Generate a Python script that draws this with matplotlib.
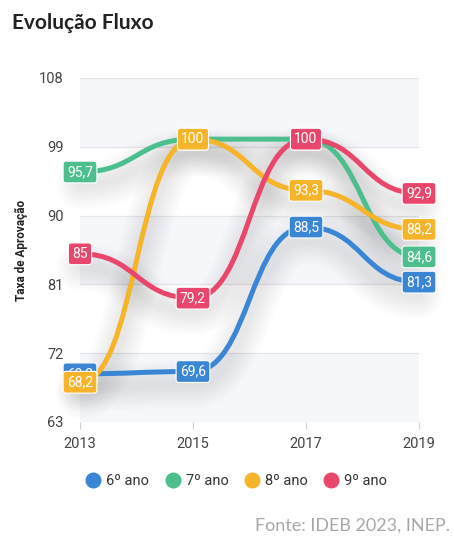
import matplotlib
matplotlib.use("Agg")
import matplotlib.pyplot as plt
import matplotlib.transforms as mtransforms
from matplotlib.path import Path
from matplotlib.patches import PathPatch
from matplotlib.lines import Line2D

years = [2013, 2015, 2017, 2019]
series_names = ["6º ano", "7º ano", "8º ano", "9º ano"]
ano6 = [69.3, 69.6, 88.5, 81.3]
ano7 = [95.7, 100, 100, 84.6]
ano8 = [68.2, 100, 93.3, 88.2]
ano9 = [85, 79.2, 100, 92.9]
ano6_labels = ["69,3", "69,6", "88,5", "81,3"]
ano7_labels = ["95,7", "100", "100", "84,6"]
ano8_labels = ["68,2", "100", "93,3", "88,2"]
ano9_labels = ["85", "79,2", "100", "92,9"]
yticks = [63, 72, 81, 90, 99, 108]

values = [ano6, ano7, ano8, ano9]
labels = [ano6_labels, ano7_labels, ano8_labels, ano9_labels]
colors = ["#3a86d4", "#4cbf8c", "#f5b42a", "#e8476b"]


def smooth_path(xs, ys):
    # bezier segments with flat handles at each point (apexcharts "smooth" look)
    verts = [(xs[0], ys[0])]
    codes = [Path.MOVETO]
    for i in range(len(xs) - 1):
        h = (xs[i + 1] - xs[i]) / 2
        verts += [(xs[i] + h, ys[i]), (xs[i + 1] - h, ys[i + 1]), (xs[i + 1], ys[i + 1])]
        codes += [Path.CURVE4] * 3
    return Path(verts, codes)


fig = plt.figure(figsize=(4.54, 5.36), dpi=100)
ax = fig.add_axes([0.1762, 0.2127, 0.7467, 0.6418])
ax.set_xlim(2013, 2019)
ax.set_ylim(63, 108)

# alternating bands
for i in range(len(yticks) - 1):
    if i % 2 == 0:
        ax.axhspan(yticks[i], yticks[i + 1], color="#f5f7fa", lw=0, zorder=0)
for y in yticks:
    ax.axhline(y, color="#e6e6e6", lw=0.9, zorder=1)

for s in ax.spines.values():
    s.set_visible(False)
ax.set_xticks(years)
ax.set_xticklabels([str(y) for y in years])
ax.set_yticks(yticks)
ax.tick_params(axis="y", length=0, pad=12, labelsize=10.5, labelcolor="#444444")
ax.tick_params(axis="x", length=5, color="#d0d0d0", pad=6, labelsize=10.5, labelcolor="#444444")
for lab in ax.get_xticklabels() + ax.get_yticklabels():
    lab.set_family("Roboto")
ax.set_ylabel("Taxa de Aprovação", family="Roboto", fontweight="bold", fontsize=8.5,
              color="#222222", labelpad=8)

# blurry drop shadow under the lines
off = mtransforms.ScaledTranslation(0, -0.13, fig.dpi_scale_trans)
for vals in values:
    p = smooth_path(years, vals)
    for w in range(34, 2, -4):
        ax.add_patch(PathPatch(p, fill=False, ec="black", lw=w, alpha=0.012,
                               transform=ax.transData + off, zorder=2,
                               clip_on=False, capstyle="round", joinstyle="round"))

# lines
for vals, c in zip(values, colors):
    ax.add_patch(PathPatch(smooth_path(years, vals), fill=False, ec=c, lw=3.6,
                           zorder=3, clip_on=False, capstyle="round"))

# data labels
for n, (vals, labs, c) in enumerate(zip(values, labels, colors)):
    for x, v, t in zip(years, vals, labs):
        ax.text(x, v, t, ha="center", va="center", color="white", fontsize=10,
                family="Roboto", zorder=5 + n, clip_on=False,
                bbox=dict(boxstyle="round,pad=0.28,rounding_size=0.2", fc=c,
                          ec="white", lw=0.8))

fig.text(0.026, 0.958, "Evolução Fluxo", family="Lato", fontweight="bold",
         fontsize=15, color="#222222", va="center", ha="left")

handles = [Line2D([], [], marker="o", ls="none", color=c, markersize=10.5) for c in colors]
leg = fig.legend(handles, series_names, loc="center", bbox_to_anchor=(0.513, 0.103),
                 ncol=4, frameon=False, handletextpad=-0.1, columnspacing=0.6,
                 prop={"family": "Roboto", "size": 10.5})
for t in leg.get_texts():
    t.set_color("#333333")

fig.text(0.992, 0.02, "Fonte: IDEB 2023, INEP.", family="Lato", fontsize=13,
         color="#a8a8a8", ha="right", va="center")

fig.savefig("out.png", dpi=100)
